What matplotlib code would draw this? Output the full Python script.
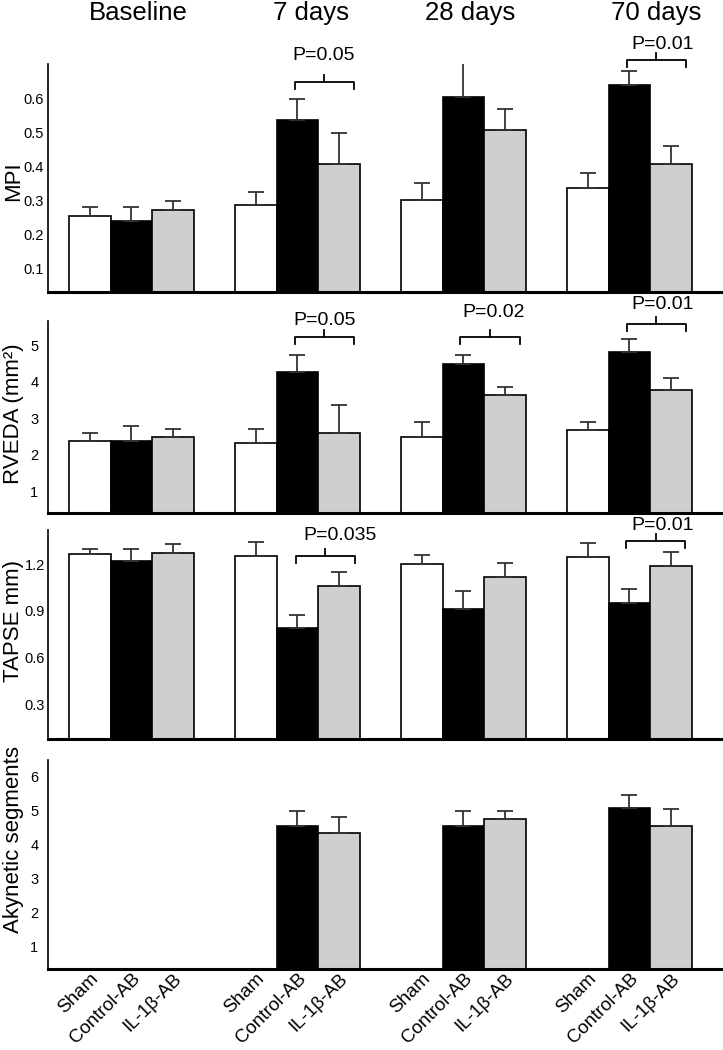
import numpy as np
import matplotlib.pyplot as plt
from matplotlib import transforms

plt.rcParams["font.family"] = ["Liberation Sans", "DejaVu Sans"]

#+++++ data
groups = ["Baseline", "7 days", "28 days", "70 days"]
treatments = ["Sham", "Control-AB", "IL-1β-AB"]
colors = ["white", "black", "#cfcfcf"]

mpi_mean = [[0.252, 0.287, 0.300, 0.337],
            [0.240, 0.536, 0.603, 0.638],
            [0.272, 0.407, 0.506, 0.407]]
mpi_err = [[0.029, 0.038, 0.049, 0.043],
           [0.041, 0.061, 0.102, 0.041],
           [0.024, 0.091, 0.062, 0.053]]

rveda_mean = [[2.36, 2.33, 2.49, 2.68],
              [2.36, 4.25, 4.47, 4.82],
              [2.47, 2.60, 3.64, 3.78]]
rveda_err = [[0.22, 0.38, 0.39, 0.20],
             [0.41, 0.49, 0.27, 0.36],
             [0.24, 0.77, 0.22, 0.32]]

tapse_mean = [[1.264, 1.25, 1.20, 1.245],
              [1.22, 0.79, 0.91, 0.95],
              [1.27, 1.06, 1.12, 1.19]]
tapse_err = [[0.036, 0.09, 0.06, 0.09],
             [0.08, 0.08, 0.12, 0.09],
             [0.06, 0.09, 0.09, 0.09]]

nan = np.nan
aky_mean = [[nan, nan, nan, nan],
            [nan, 4.56, 4.56, 5.09],
            [nan, 4.35, 4.76, 4.56]]
aky_err = [[nan, nan, nan, nan],
           [nan, 0.44, 0.44, 0.38],
           [nan, 0.47, 0.24, 0.50]]

ylabels = ["MPI", "RVEDA (mm²)", "TAPSE mm)", "Akynetic segments"]
yticks = [[0.1, 0.2, 0.3, 0.4, 0.5, 0.6], [1, 2, 3, 4, 5],
          [0.3, 0.6, 0.9, 1.2], [1, 2, 3, 4, 5, 6]]
ylims = [(0.03, 0.70), (0.40, 5.66), (0.075, 1.42), (0.35, 6.5)]

# (panel, x0, x1, bracket y, text x, text y, text)
pvals = [(0, 4.94, 6.36, 0.647, 5.63, 0.726, "P=0.05"),
         (0, 12.94, 14.36, 0.711, 13.79, 0.758, "P=0.01"),
         (1, 4.94, 6.36, 5.21, 5.66, 5.67, "P=0.05"),
         (1, 8.92, 10.36, 5.21, 9.72, 5.89, "P=0.02"),
         (1, 12.94, 14.36, 5.59, 13.79, 6.11, "P=0.01"),
         (2, 4.96, 6.38, 1.251, 6.02, 1.386, "P=0.035"),
         (2, 12.92, 14.34, 1.348, 13.79, 1.45, "P=0.01")]
title_x = [1.16, 5.32, 9.17, 13.64]
#-----

W, H = 723, 1050
fig = plt.figure(figsize=(W/100, H/100), dpi=100)
extents = [(64, 292), (321, 513), (530, 739), (760, 969)]
left, right = 48, 722
label_y = [0.487, 0.515, 0.565, 0.62]
tick_pad = [3, 7, 2, 7]

means = [mpi_mean, rveda_mean, tapse_mean, aky_mean]
errs = [mpi_err, rveda_err, tapse_err, aky_err]

axes = []
for k, (top, bot) in enumerate(extents):
    ax = fig.add_axes([left/W, 1 - bot/H, (right-left)/W, (bot-top)/H])
    axes.append(ax)
    for j in range(3):
        x = np.arange(len(groups))*4 + j
        m = np.array(means[k][j], dtype=float)
        e = np.array(errs[k][j], dtype=float)
        ax.bar(x, m, width=1.0, color=colors[j], edgecolor="black",
               linewidth=1.2, zorder=2)
        ax.errorbar(x, m, yerr=[np.zeros_like(e), e], fmt="none",
                    ecolor="#333333", elinewidth=1.3, capsize=6,
                    capthick=1.3, zorder=3)
    ax.set_xlim(-1.01, 15.23)
    ax.set_ylim(*ylims[k])
    ax.set_yticks(yticks[k])
    ax.set_yticklabels([f"{t:g}" for t in yticks[k]])
    ax.tick_params(axis="y", length=0, pad=tick_pad[k], labelsize=10.5)
    ax.tick_params(axis="x", length=0)
    for s in ["top", "right"]:
        ax.spines[s].set_visible(False)
    ax.spines["left"].set_linewidth(1.2)
    ax.spines["bottom"].set_linewidth(2.2)
    ax.set_ylabel(ylabels[k], fontsize=16)
    ax.yaxis.set_label_coords(-0.036, label_y[k])
    if k < 3:
        ax.set_xticks([])
    else:
        xt = [g*4 + j for g in range(len(groups)) for j in range(3)]
        ax.set_xticks(xt)
        ax.set_xticklabels(treatments*len(groups), rotation=45, ha="right",
                           va="top", rotation_mode="anchor", fontsize=13.5)
        ax.tick_params(axis="x", pad=1)

for k, x0, x1, yb, tx, ty, txt in pvals:
    ax = axes[k]
    top, bot = extents[k]
    per_px = (ylims[k][1] - ylims[k][0]) / (bot - top)
    leg, notch = 7*per_px, 7*per_px
    xm = (x0 + x1)/2
    ax.plot([x0, x0, x1, x1], [yb-leg, yb, yb, yb-leg], color="black",
            lw=1.3, clip_on=False, zorder=4)
    ax.plot([xm, xm], [yb, yb+notch], color="black", lw=1.3, clip_on=False,
            zorder=4)
    ax.text(tx, ty, txt, ha="center", va="center", fontsize=14, clip_on=False)

tr = transforms.blended_transform_factory(axes[0].transData, fig.transFigure)
for g, tx in zip(groups, title_x):
    fig.text(tx, 1 - 13/H, g, transform=tr, ha="center", va="center",
             fontsize=18.5)

fig.savefig("out.png", dpi=100)
